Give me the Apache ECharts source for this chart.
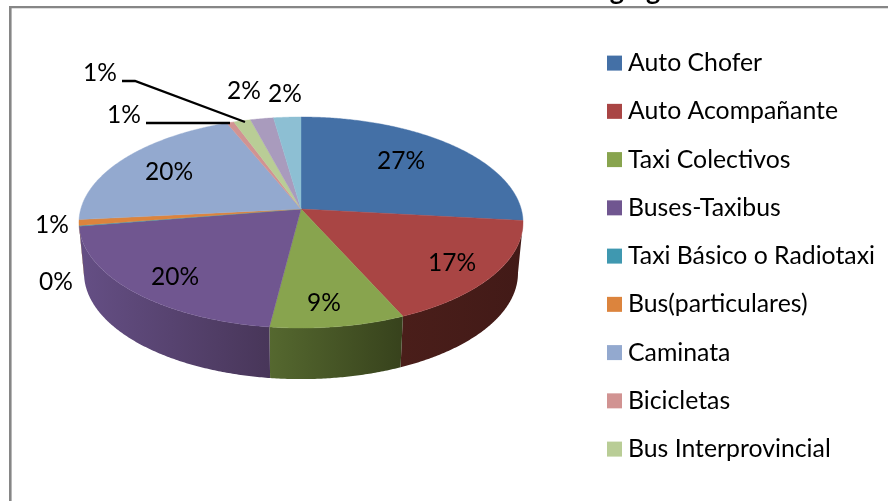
<!doctype html>
<html>
    <head>
        <meta charset="utf-8">
        <title>Reparto modal</title>
        <style>
            html, body { margin: 0; padding: 0; background: #fff; }
            #main { width: 888px; height: 501px; }
        </style>
    </head>
    <body>
        <div id="main"></div>
        <script src="https://cdn.jsdelivr.net/npm/echarts@6/dist/echarts.min.js"></script>
        <script>
            // data, in percent (the last two slices have no visible legend row)
            var categories = ['Auto Chofer', 'Auto Acompañante', 'Taxi Colectivos', 'Buses-Taxibus', 'Taxi Básico o Radiotaxi', 'Bus(particulares)', 'Caminata', 'Bicicletas', 'Bus Interprovincial', 'Otros 1', 'Otros 2'];
            var values = [26.75, 16.55, 8.7, 20.4, 0.1, 0.9, 20.45, 0.6, 1.4, 1.9, 2.25];
            var legendRows = categories.slice(0, 9);

            var colors = ['#4470a6', '#a94544', '#88a44e', '#705690', '#3f98b0', '#dc843d', '#93a9cf', '#d19392', '#b9cd96', '#a99bbd', '#8dbfd3'];
            var wallColors = [
                ['#2a4468', '#2a4468'], ['#4a1e1a', '#421a17'], ['#55682f', '#37421c'], ['#654f85', '#483659'],
                ['#2a6070', '#2a6070'], ['#8c5426', '#8c5426'], ['#5d6c85', '#5d6c85'], ['#855e5d', '#855e5d'],
                ['#76835f', '#76835f'], ['#6c6278', '#6c6278'], ['#5a7a87', '#5a7a87']
            ];
            // where each percentage sits: centre of the text
            var labelSpots = [[401, 161], [452, 263], [324, 303], [175, 277], [56, 282], [52, 225], [169, 172], [124, 115], [100, 73], [244, 91], [285, 94]];
            var leaderLines = [[[146, 123], [230, 123]], [[122, 81], [135, 81], [245, 122]]];

            // tilted disc as a perspective view of a circle, so the centre sits above the ellipse middle
            var tilt = 0.128;
            var topFace = { cx: 301, cy: 209, rx: 220.2, ry: 103.8 };
            var bottomFace = { cx: 301, cy: 259.5, rx: 215.2, ry: 104.3 };
            var wallFrom = 90 + Math.asin(tilt) * 180 / Math.PI;
            var wallTo = 360 - wallFrom;

            function project(face, deg) {
                var a = deg * Math.PI / 180;
                var u = Math.sin(a), v = Math.cos(a);
                var d = 1 + tilt * v;
                return [face.cx + face.rx * u / d, face.cy - face.ry * v / d];
            }

            function arc(face, from, to) {
                var pts = [];
                var n = Math.max(1, Math.ceil(Math.abs(to - from) / 0.5));
                for (var i = 0; i <= n; i++) {
                    pts.push(project(face, from + (to - from) * i / n));
                }
                return pts;
            }

            var total = values.reduce(function (a, b) { return a + b; }, 0);
            var starts = [];
            var sum = 0;
            values.forEach(function (v) {
                starts.push(sum / total * 360);
                sum += v;
            });

            var series = categories.map(function (name, idx) {
                return {
                    type: 'custom',
                    name: name,
                    coordinateSystem: 'none',
                    silent: true,
                    z: 2,
                    itemStyle: { color: colors[idx] },
                    data: [[values[idx]]],
                    renderItem: function (params, api) {
                        var from = starts[idx];
                        var to = from + api.value(0) / total * 360;
                        var children = [];
                        var a = Math.max(from, wallFrom);
                        var b = Math.min(to, wallTo);
                        if (b > a) {
                            children.push({
                                type: 'polygon',
                                shape: { points: arc(topFace, a, b).concat(arc(bottomFace, b, a)) },
                                style: {
                                    fill: new echarts.graphic.LinearGradient(0, 0, 1, 0, [
                                        { offset: 0, color: wallColors[idx][0] },
                                        { offset: 1, color: wallColors[idx][1] }
                                    ]),
                                    stroke: null
                                }
                            });
                        }
                        children.push({
                            type: 'polygon',
                            shape: { points: [[topFace.cx, topFace.cy]].concat(arc(topFace, from, to)) },
                            style: { fill: colors[idx], stroke: colors[idx], lineWidth: 0.4 }
                        });
                        return { type: 'group', children: children };
                    }
                };
            });

            var graphics = [
                { type: 'rect', z: 1, shape: { x: 9, y: 6, width: 879, height: 2 }, style: { fill: '#868686' } },
                { type: 'rect', z: 1, shape: { x: 11, y: 8, width: 877, height: 1 }, style: { fill: '#dedede' } },
                { type: 'rect', z: 1, shape: { x: 9, y: 6, width: 2.6, height: 495 }, style: { fill: '#868686' } },
                // title is cut by the top edge of the picture, only the descenders show
                { type: 'text', z: 3, x: 635, y: -22, style: { text: 'ging', fill: '#000', font: 'bold 27px Lato', align: 'center', verticalAlign: 'top' } }
            ];
            leaderLines.forEach(function (pts) {
                graphics.push({ type: 'polyline', z: 3, shape: { points: pts }, style: { stroke: '#000', lineWidth: 2.4, fill: null } });
            });
            values.forEach(function (v, idx) {
                graphics.push({
                    type: 'text', z: 4,
                    x: labelSpots[idx][0], y: labelSpots[idx][1],
                    style: { text: Math.round(v / total * 100) + '%', fill: '#000', font: '24.5px Lato', align: 'center', verticalAlign: 'middle' }
                });
            });

            var chart = echarts.init(document.getElementById('main'));
            chart.setOption({
                animation: false,
                backgroundColor: '#fff',
                legend: {
                    show: true,
                    orient: 'vertical',
                    left: 607,
                    top: 48.6,
                    padding: 0,
                    itemWidth: 15,
                    itemHeight: 15,
                    itemGap: 19.25,
                    icon: 'rect',
                    selectedMode: false,
                    data: legendRows,
                    textStyle: { fontFamily: 'Lato', fontSize: 24.8, lineHeight: 29, color: '#000', padding: [0, 0, 0, 1] }
                },
                graphic: graphics,
                series: series
            });

            window.onresize = chart.resize;
        </script>
    </body>
</html>
